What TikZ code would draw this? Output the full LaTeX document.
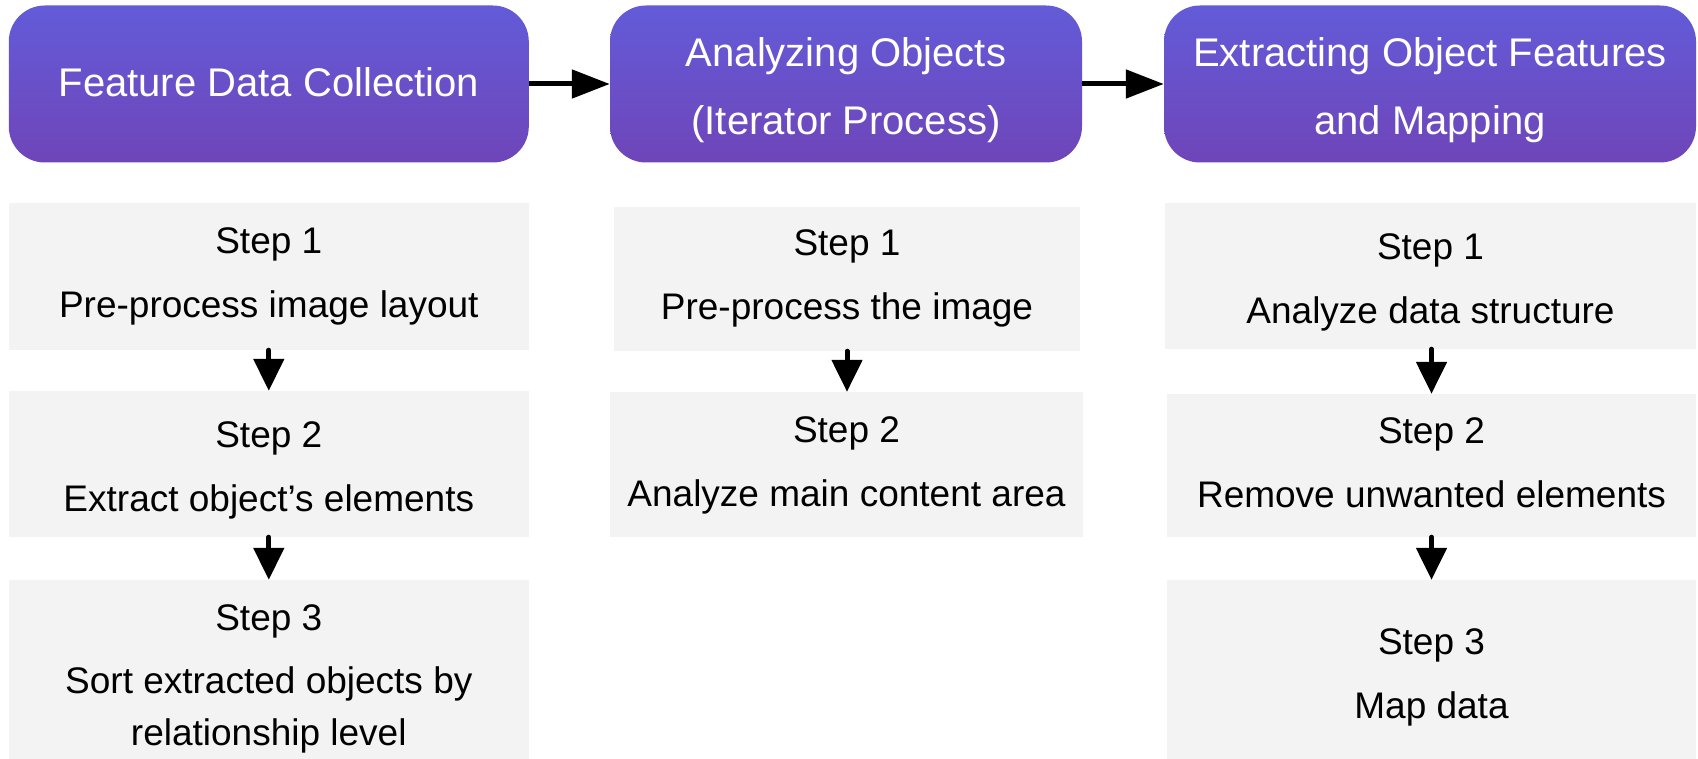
\documentclass[tikz,border=0pt]{standalone}
\usepackage{fontspec}
\setmainfont{Liberation Sans}
\usetikzlibrary{arrows.meta}
\definecolor{hdtop}{HTML}{635BD8}
\definecolor{hdbot}{HTML}{6F45B9}
\definecolor{stepgray}{HTML}{F3F3F3}
\begin{document}
\begin{tikzpicture}[x=1pt,y=-1pt,
  hdbox/.style={rounded corners=36pt, top color=hdtop, bottom color=hdbot, draw=none, inner sep=0pt},
  hdtext/.style={text=white, align=center, inner sep=0pt, font=\fontsize{40}{68}\selectfont},
  stepbox/.style={fill=stepgray, draw=none, inner sep=0pt},
  steptext/.style={align=center, inner sep=0pt, text=black, font=\fontsize{37}{52}\selectfont},
  harrow/.style={line width=5pt, -{Triangle[length=38pt,width=28pt]}},
  varrow/.style={line width=5pt, line cap=round, -{Triangle[length=32pt,width=30pt]}}]
\fill[white] (0,0) rectangle (1698,759);
\useasboundingbox (0,0) rectangle (1698,759);

% headers
\node[hdbox, minimum width=520pt, minimum height=157pt] (h1) at (268.8,84) {};
\node[hdbox, minimum width=472pt, minimum height=157pt] (h2) at (846,84) {};
\node[hdbox, minimum width=532pt, minimum height=157pt] (h3) at (1430,84) {};
\node[hdtext] (t1) at ([yshift=2pt]h1.center) {Feature Data Collection};
\node[hdtext] (t2) at ([yshift=-6.5pt]h2.center) {Analyzing Objects\\(Iterator Process)};
\node[hdtext] (t3) at ([yshift=-6.5pt]h3.center) {Extracting Object Features\\and Mapping};

% column 1
\node[stepbox, minimum width=520.5pt, minimum height=147pt] (a1) at (268.8,276.5) {};
\node[stepbox, minimum width=520.5pt, minimum height=146pt] (a2) at (268.8,464) {};
\node[stepbox, minimum width=520.5pt, minimum height=179pt] (a3) at (268.8,669.5) {};
\node[steptext] (ta1) at (a1.center) {Step 1\\[12pt]Pre-process image layout};
\node[steptext] (ta2) at ([yshift=-6.5pt]a2.center) {Step 2\\[12pt]Extract object’s elements};
\node[steptext] (ta3) at ([yshift=-9pt]a3.center) {Step 3\\[11pt]Sort extracted objects by\\relationship level};

% column 2
\node[stepbox, minimum width=466pt, minimum height=144pt] (b1) at (847,279) {};
\node[stepbox, minimum width=473pt, minimum height=145pt] (b2) at (846.5,464.5) {};
\node[steptext] (tb1) at ([yshift=1pt]b1.center) {Step 1\\[12pt]Pre-process the image};
\node[steptext] (tb2) at ([yshift=-1pt]b2.center) {Step 2\\[12pt]Analyze main content area};

% column 3
\node[stepbox, minimum width=531pt, minimum height=146pt] (c1) at (1430.5,276) {};
\node[stepbox, minimum width=529pt, minimum height=143pt] (c2) at (1431.5,465.5) {};
\node[stepbox, minimum width=529pt, minimum height=179pt] (c3) at (1431.5,669.5) {};
\node[steptext] (tc1) at ([yshift=-6.5pt]c1.center) {Step 1\\[12pt]Analyze data structure};
\node[steptext] (tc2) at ([yshift=3pt]c2.center) {Step 2\\[12pt]Remove unwanted elements};
\node[steptext] (tc3) at ([yshift=-7.5pt]c3.center) {Step 3\\[12pt]Map data};

% header arrows
\draw[harrow] (h1.east) -- (h2.west);
\draw[harrow] (h2.east) -- (h3.west);

% step arrows
\draw[varrow] (a1.south) -- (a1.south |- a2.north);
\draw[varrow] (a2.south) -- (a2.south |- a3.north);
\draw[varrow] (b1.south) -- (b1.south |- b2.north);
\draw[varrow] (c1.south -| c2.north) -- (c2.north);
\draw[varrow] (c2.south) -- (c3.north);
\end{tikzpicture}
\end{document}
